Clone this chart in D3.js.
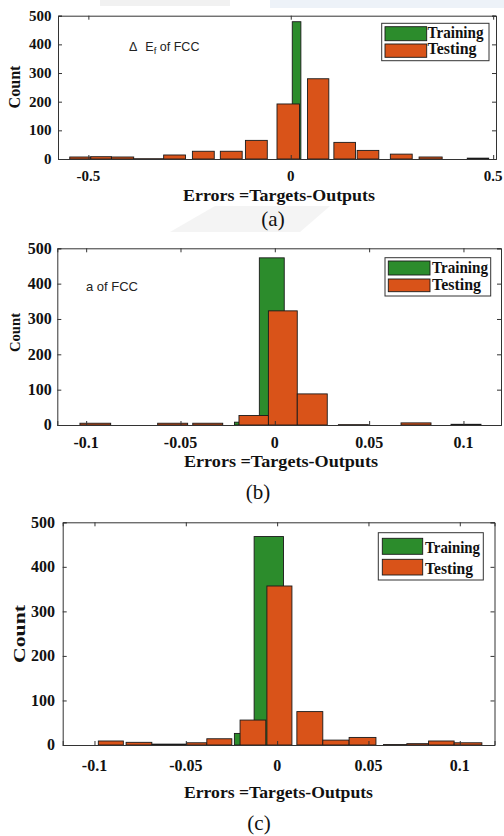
<!DOCTYPE html>
<html><head><meta charset="utf-8">
<script src="https://cdn.jsdelivr.net/npm/d3@7"></script>
<style>html,body{margin:0;padding:0;background:#fff;} svg{display:block}</style>
</head><body><svg id="chart" width="504" height="836"></svg>
<script>
// ---------- data ----------
const seriesNames = ["Training", "Testing"];
const seriesColors = ["#2c8c2c", "#d95319"];
const yTicks = [0, 100, 200, 300, 400, 500];
const xTicksA = [-0.5, 0, 0.5];
const xTickLabelsA = ["-0.5", "0", "0.5"];
const xTicksBC = [-0.1, -0.05, 0, 0.05, 0.1];
const xTickLabelsBC = ["-0.1", "-0.05", "0", "0.05", "0.1"];
// bins: [lower edge, upper edge, count]
const trainingA = [[0.0037, 0.025, 479]];
const testingA = [[-0.546, -0.494, 7], [-0.494, -0.443, 8], [-0.443, -0.388, 7], [-0.388, -0.314, 1],
  [-0.314, -0.260, 14], [-0.243, -0.189, 27], [-0.174, -0.120, 27], [-0.112, -0.058, 65],
  [-0.034, 0.0217, 192], [0.0414, 0.094, 280], [0.1065, 0.160, 58], [0.164, 0.2175, 30],
  [0.246, 0.300, 17], [0.317, 0.374, 7], [0.436, 0.489, 3]];
const trainingB = [[-0.0214, -0.0082, 8], [-0.0082, 0.0050, 473]];
const testingB = [[-0.1033, -0.0870, 5], [-0.0621, -0.0462, 5], [-0.0435, -0.0276, 5],
  [-0.0190, -0.0034, 27], [-0.0034, 0.0119, 323], [0.0119, 0.0278, 88], [0.0337, 0.0496, 1],
  [0.0669, 0.0828, 6], [0.0934, 0.1093, 2]];
const trainingC = [[-0.0234, -0.0126, 26], [-0.0126, 0.0035, 468]];
const testingC = [[-0.0979, -0.0842, 9], [-0.0827, -0.0686, 6], [-0.0686, -0.0495, 2],
  [-0.0495, -0.0385, 5], [-0.0385, -0.0248, 14], [-0.0203, -0.0062, 56], [-0.0056, 0.0081, 357],
  [0.0108, 0.0250, 75], [0.0250, 0.0394, 11], [0.0394, 0.0541, 17], [0.0582, 0.0710, 1],
  [0.0710, 0.0829, 3], [0.0829, 0.0969, 9], [0.0969, 0.1121, 5]];
const notes = ["of FCC", "a of FCC"];
const xLabel = "Errors =Targets-Outputs";
const yLabel = "Count";
const captions = ["(a)", "(b)", "(c)"];

// ---------- layout ----------
const panels = [
  { train: trainingA, test: testingA, xDom: [-0.575, 0.507], yDom: [0, 500],
    L: 58, R: 496, T: 15.7, B: 159, ticks: xTicksA, tickLabels: xTickLabelsA,
    fs: 15, yLabEnd: 51.5, xLabBase: 181,
    count: { x: 19.5, y: 87, len: 43, fs: 16 },
    xl: { cx: 279, y: 201, len: 192, fs: 16 },
    cap: { x: 273, y: 226, fs: 21 },
    leg: { x0: 381.7, x1: 489, y0: 23.3, y1: 60.7, sx0: 385, sx1: 426.7, s1: [26.7, 40.7], s2: [44, 57.3], tx: 427.5, b1: 37.7, b2: 54.3, fs: 16, tl: [56, 49] } },
  { train: trainingB, test: testingB, xDom: [-0.1153, 0.1199], yDom: [0, 500],
    L: 57.3, R: 501, T: 248.3, B: 425, ticks: xTicksBC, tickLabels: xTickLabelsBC,
    fs: 16, yLabEnd: 51.7, xLabBase: 448,
    count: { x: 20, y: 332.5, len: 39, fs: 15 },
    xl: { cx: 281, y: 467, len: 194, fs: 16 },
    cap: { x: 258, y: 499, fs: 21 },
    leg: { x0: 385, x1: 490.7, y0: 257.7, y1: 296, sx0: 388.3, sx1: 430, s1: [261, 275], s2: [279, 291.7], tx: 432, b1: 272.7, b2: 290, fs: 16, tl: [56, 49] } },
  { train: trainingC, test: testingC, xDom: [-0.1174, 0.119], yDom: [0, 500],
    L: 62.7, R: 494.5, T: 522.3, B: 745, ticks: xTicksBC, tickLabels: xTickLabelsBC,
    fs: 16, yLabEnd: 55, xLabBase: 771,
    count: { x: 25, y: 634, len: 58, fs: 17 },
    xl: { cx: 278.5, y: 798, len: 189, fs: 17 },
    cap: { x: 259, y: 830, fs: 21 },
    leg: { x0: 378.3, x1: 483.3, y0: 532.7, y1: 580, sx0: 382.3, sx1: 422.7, s1: [538.3, 554.3], s2: [559.3, 575], tx: 425, b1: 553, b2: 573.5, fs: 17, tl: [55, 48] } }
];

const svg = d3.select("#chart");
const serif = "'Liberation Serif','Times New Roman',serif";
const sans = "'Liberation Sans',Arial,sans-serif";
const axisColor = "#333";

// faint background watermark pieces
const wm = svg.append("g").attr("opacity", 0.55);
wm.append("rect").attr("x", 100).attr("y", 0).attr("width", 130).attr("height", 6).attr("fill", "#e6e6e6");
wm.append("rect").attr("x", 270).attr("y", 0).attr("width", 234).attr("height", 8).attr("fill", "#dfe8f4");
wm.append("path").attr("d", "M170,232 L215,206 L330,206 L300,232 Z").attr("fill", "#ececec");

panels.forEach((p, i) => {
  const x = d3.scaleLinear().domain(p.xDom).range([p.L, p.R]);
  const y = d3.scaleLinear().domain(p.yDom).range([p.B, p.T]);
  const g = svg.append("g");

  // bars: training first, testing on top
  [p.train, p.test].forEach((bins, s) => {
    g.append("g").selectAll("rect").data(bins).join("rect")
      .attr("x", d => x(d[0]))
      .attr("width", d => x(d[1]) - x(d[0]))
      .attr("y", d => y(d[2]))
      .attr("height", d => y(0) - y(d[2]))
      .attr("fill", seriesColors[s])
      .attr("stroke", "#1a1a1a").attr("stroke-width", 0.9);
  });

  // axes (ticks inward on all four sides)
  const tickLen = 4;
  const bottom = d3.axisBottom(x).tickValues(p.ticks).tickSize(-tickLen).tickFormat("");
  const top = d3.axisTop(x).tickValues(p.ticks).tickSize(-tickLen).tickFormat("");
  const left = d3.axisLeft(y).tickValues(yTicks).tickSize(-tickLen).tickFormat("");
  const right = d3.axisRight(y).tickValues(yTicks).tickSize(-tickLen).tickFormat("");
  const styleAxis = sel => { sel.selectAll("path").attr("stroke", axisColor).attr("stroke-width", 1);
    sel.selectAll("line").attr("stroke", axisColor).attr("stroke-width", 1); };
  g.append("g").attr("transform", `translate(0,${p.B})`).call(bottom).call(styleAxis);
  g.append("g").attr("transform", `translate(0,${p.T})`).call(top).call(styleAxis);
  g.append("g").attr("transform", `translate(${p.L},0)`).call(left).call(styleAxis);
  g.append("g").attr("transform", `translate(${p.R},0)`).call(right).call(styleAxis);

  // tick labels
  g.append("g").selectAll("text").data(yTicks).join("text")
    .attr("x", p.yLabEnd).attr("y", d => y(d)).attr("dy", "0.34em")
    .attr("text-anchor", "end").attr("font-family", serif).attr("font-weight", "bold")
    .attr("font-size", p.fs).attr("fill", "#111").text(d => d);
  g.append("g").selectAll("text").data(p.ticks).join("text")
    .attr("x", d => x(d)).attr("y", p.xLabBase)
    .attr("text-anchor", "middle").attr("font-family", serif).attr("font-weight", "bold")
    .attr("font-size", p.fs).attr("fill", "#111").text((d, k) => p.tickLabels[k]);

  // axis titles
  g.append("text").attr("transform", `translate(${p.count.x},${p.count.y}) rotate(-90)`)
    .attr("text-anchor", "middle").attr("font-family", serif).attr("font-weight", "bold")
    .attr("font-size", p.count.fs).attr("textLength", p.count.len).attr("lengthAdjust", "spacingAndGlyphs")
    .attr("fill", "#111").text(yLabel);
  g.append("text").attr("x", p.xl.cx - p.xl.len / 2).attr("y", p.xl.y)
    .attr("font-family", serif).attr("font-weight", "bold")
    .attr("font-size", p.xl.fs).attr("textLength", p.xl.len).attr("lengthAdjust", "spacingAndGlyphs")
    .attr("fill", "#111").text(xLabel);
  g.append("text").attr("x", p.cap.x).attr("y", p.cap.y).attr("text-anchor", "middle")
    .attr("font-family", serif).attr("font-size", p.cap.fs).attr("fill", "#111").text(captions[i]);

  // legend
  const lg = p.leg;
  g.append("rect").attr("x", lg.x0).attr("y", lg.y0).attr("width", lg.x1 - lg.x0).attr("height", lg.y1 - lg.y0)
    .attr("fill", "#fff").attr("stroke", axisColor).attr("stroke-width", 1);
  [lg.s1, lg.s2].forEach((sy, s) => {
    g.append("rect").attr("x", lg.sx0).attr("y", sy[0]).attr("width", lg.sx1 - lg.sx0).attr("height", sy[1] - sy[0])
      .attr("fill", seriesColors[s]).attr("stroke", "#1a1a1a").attr("stroke-width", 0.9);
    g.append("text").attr("x", lg.tx).attr("y", s === 0 ? lg.b1 : lg.b2)
      .attr("font-family", serif).attr("font-weight", "bold").attr("font-size", lg.fs)
      .attr("textLength", lg.tl[s]).attr("lengthAdjust", "spacingAndGlyphs")
      .attr("fill", "#111").text(seriesNames[s]);
  });
});

// in-plot annotations
const n1 = svg.append("text").attr("x", 129).attr("y", 50.5)
  .attr("font-family", sans).attr("font-size", 12.5).attr("fill", "#222");
n1.append("tspan").text("\u0394");
n1.append("tspan").attr("dx", 8).text("E");
n1.append("tspan").attr("font-size", 9.5).attr("dy", 3.5).text("f");
n1.append("tspan").attr("dy", -3.5).text(" " + notes[0]);
svg.append("text").attr("x", 86).attr("y", 290.5)
  .attr("font-family", sans).attr("font-size", 13).attr("fill", "#222").text(notes[1]);
</script>
</body></html>
